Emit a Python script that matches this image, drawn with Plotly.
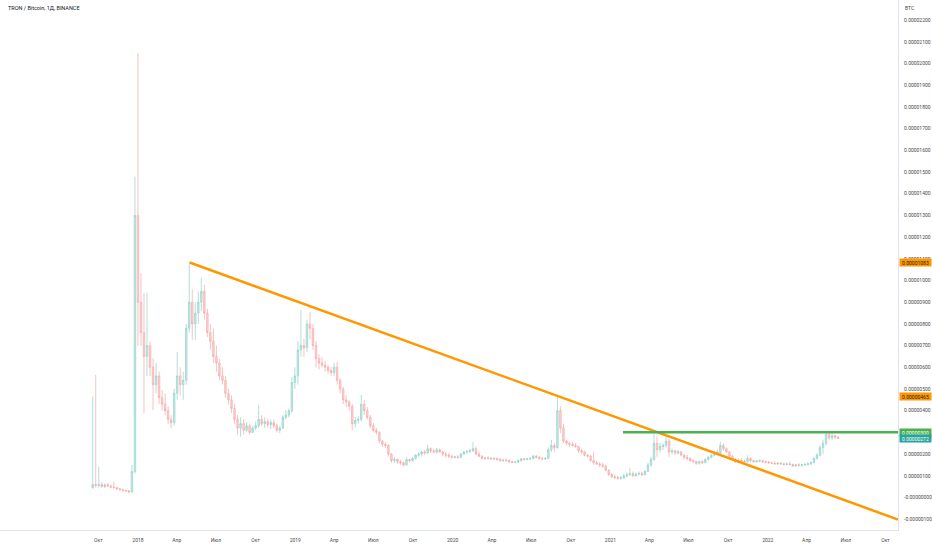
import plotly.graph_objects as go
import pandas as pd
import numpy as np

title_text = "TRON / Bitcoin, 1Д, BINANCE"
start_week = "2017-09-18"   # weekly candles, values in satoshi

opens = [45,60,55,60,50,58,52,48,45,40,36,32,30,25,120,1300,900,760,650,700,
         600,520,560,460,430,400,360,345,480,560,520,540,780,900,800,850,900,950,850,760,
         720,650,620,560,540,480,450,410,360,320,340,310,330,300,320,330,360,340,350,335,
         345,330,310,320,370,380,400,530,560,680,700,690,800,780,700,640,620,610,600,585,
         575,600,540,500,450,440,420,340,355,360,430,400,370,330,310,300,260,245,240,200,
         170,175,165,160,150,175,170,180,195,200,210,205,225,215,210,220,210,200,195,190,
         185,187,184,200,210,212,215,225,200,190,180,182,180,178,180,175,170,172,170,165,
         162,163,170,178,175,178,180,190,185,180,178,180,220,240,230,400,320,260,250,245,
         240,235,215,210,195,190,170,160,155,150,145,125,105,95,92,88,90,100,105,110,
         100,108,110,105,120,150,175,250,220,235,240,260,210,215,205,210,195,185,180,170,
         165,158,165,160,175,185,195,210,205,240,225,210,190,175,165,170,168,165,180,170,
         165,168,170,165,162,160,158,155,158,155,152,155,152,145,150,148,150,152,155,160,
         180,195,230,250,290,275,285,278]
highs = [465,565,142,70,66,68,60,73,50,45,40,36,34,150,1479,2048,1034,942,942,720,
         640,620,580,495,480,420,380,500,671,600,580,800,1083,960,900,950,1012,980,870,800,
         780,700,640,600,560,500,470,430,380,370,360,345,340,330,350,426,380,370,365,360,
         360,340,330,380,403,410,556,600,720,864,730,820,855,800,720,660,648,630,610,602,
         620,625,550,510,470,450,430,370,375,472,450,417,380,343,320,305,265,255,245,205,
         187,180,175,165,185,180,187,200,205,215,219,242,230,225,228,225,215,210,205,195,
         192,195,205,215,219,225,256,235,210,195,187,190,187,185,184,182,178,180,175,170,
         168,175,182,182,182,185,196,196,190,187,185,230,265,250,472,420,340,265,256,256,
         250,238,225,215,200,195,210,170,164,160,150,130,113,105,100,98,110,115,136,120,
         115,120,118,125,160,187,297,280,251,250,280,270,225,220,219,215,200,196,185,175,
         170,170,173,180,190,200,215,219,256,250,230,215,195,182,180,182,175,195,185,175,
         173,175,173,170,168,165,168,162,164,160,158,164,156,155,158,155,159,160,165,185,
         205,240,265,300,300,295,290,282]
lows = [40,45,45,45,44,48,42,42,35,33,28,26,21,24,110,700,700,389,560,560,
        403,480,430,400,380,340,320,330,450,470,450,520,760,726,726,800,860,820,740,680,
        620,580,540,520,460,430,390,340,290,280,290,300,290,297,310,320,330,320,320,315,
        320,300,297,315,360,370,390,500,520,650,648,670,730,680,600,590,600,580,570,560,
        560,520,480,430,417,400,311,320,340,350,380,360,320,300,290,250,233,230,190,160,
        160,155,150,142,148,160,165,175,187,190,195,200,205,203,200,205,190,185,182,180,
        180,180,182,195,200,205,210,195,185,175,173,175,173,172,170,165,164,165,160,159,
        158,160,165,170,170,172,175,180,175,172,173,178,210,210,225,297,251,240,233,235,
        230,205,200,190,185,165,150,150,140,136,120,100,90,85,82,81,85,92,100,95,
        95,100,100,102,118,141,170,187,210,219,230,187,200,196,198,190,175,170,164,160,
        150,152,155,158,170,180,190,195,200,215,205,185,170,159,160,163,160,160,163,160,
        159,162,160,159,155,152,150,150,150,148,150,150,141,141,143,142,145,148,150,158,
        175,190,200,240,265,265,268,270]
closes = [60,55,60,50,58,52,48,45,40,36,32,30,25,120,1300,900,760,650,700,600,
          520,560,460,430,400,360,345,480,560,520,540,780,900,800,850,900,950,850,760,720,
          650,620,560,540,480,450,410,360,320,340,310,330,300,320,330,360,340,350,335,345,
          330,310,320,370,380,400,530,560,680,700,690,800,780,700,640,620,610,600,585,575,
          600,540,500,450,440,420,340,355,360,430,400,370,330,310,300,260,245,240,200,170,
          175,165,160,150,175,170,180,195,200,210,205,225,215,210,220,210,200,195,190,185,
          187,184,200,210,212,215,225,200,190,180,182,180,178,180,175,170,172,170,165,162,
          163,170,178,175,178,180,190,185,180,178,180,220,240,230,400,320,260,250,245,240,
          235,215,210,195,190,170,160,155,150,145,125,105,95,92,88,90,100,105,110,100,
          108,110,105,120,150,175,250,220,235,240,260,210,215,205,210,195,185,180,170,165,
          158,165,160,175,185,195,210,205,240,225,210,190,175,165,170,168,165,180,170,165,
          168,170,165,162,160,158,155,158,155,152,155,152,145,150,148,150,152,155,160,180,
          195,230,250,290,275,285,278,272]

# drawings (TradingView tools)
trend_dates = ["2018-05-01", "2020-09-04"]
trend_sats = [1083, 465]
level_start = "2021-01-30"
level_sat = 300
last_sat = 272

x_range = ["2017-02-15", "2022-10-30"]
y_range_sat = [-150, 2293]

y_tick_sats = list(range(-100, 2201, 100))
y_tick_text = ["-0.00000100", "-0.00000000", "0.00000100", "0.00000200", "0.00000300",
               "0.00000400", "0.00000500", "0.00000600", "0.00000700", "0.00000800",
               "0.00000900", "0.00001000", "0.00001100", "0.00001200", "0.00001300",
               "0.00001400", "0.00001500", "0.00001600", "0.00001700", "0.00001800",
               "0.00001900", "0.00002000", "0.00002100", "0.00002200"]
x_tick_dates = ["2017-10-01", "2018-01-01", "2018-04-01", "2018-07-01", "2018-10-01",
                "2019-01-01", "2019-04-01", "2019-07-01", "2019-10-01",
                "2020-01-01", "2020-04-01", "2020-07-01", "2020-10-01",
                "2021-01-01", "2021-04-01", "2021-07-01", "2021-10-01",
                "2022-01-01", "2022-04-01", "2022-07-01", "2022-10-01"]
x_tick_text = ["Окт", "2018", "Апр", "Июл", "Окт", "2019", "Апр", "Июл", "Окт",
               "2020", "Апр", "Июл", "Окт", "2021", "Апр", "Июл", "Окт",
               "2022", "Апр", "Июл", "Окт"]

SAT = 1e-8
dates = pd.date_range(start_week, periods=len(closes), freq="7D")
o = np.array(opens) * SAT
h = np.array(highs) * SAT
l = np.array(lows) * SAT
c = np.array(closes) * SAT

UP = "#26a69a"
DOWN = "#ef5350"
ORANGE = "#ff9800"
GREEN = "#4caf50"
FONT = "Roboto"
FS = 5

fig = go.Figure()
fig.add_trace(go.Candlestick(
    x=dates, open=o, high=h, low=l, close=c,
    increasing=dict(line=dict(color=UP, width=0.7), fillcolor="rgba(38,166,154,0.45)"),
    decreasing=dict(line=dict(color=DOWN, width=0.7), fillcolor="rgba(239,83,80,0.45)"),
    opacity=0.5, whiskerwidth=0, showlegend=False, hoverinfo="skip"))

# trend line ray from two anchors, extended to right edge
t0 = pd.Timestamp(trend_dates[0]); t1 = pd.Timestamp(trend_dates[1])
tend = pd.Timestamp(x_range[1])
slope = (trend_sats[1] - trend_sats[0]) / (t1 - t0).days
v_end = trend_sats[0] + slope * (tend - t0).days
fig.add_trace(go.Scatter(x=[t0, tend], y=[trend_sats[0] * SAT, v_end * SAT],
                         mode="lines", line=dict(color=ORANGE, width=2.5),
                         showlegend=False, hoverinfo="skip"))
fig.add_trace(go.Scatter(x=[pd.Timestamp(level_start), tend],
                         y=[level_sat * SAT, level_sat * SAT],
                         mode="lines", line=dict(color=GREEN, width=2.5),
                         showlegend=False, hoverinfo="skip"))

annotations = [
    dict(text=title_text, xref="paper", yref="paper", x=0, y=1, xanchor="left",
         yanchor="top", xshift=6, yshift=-3, showarrow=False,
         font=dict(family=FONT, size=5.5, color="#131722")),
    dict(text="BTC", xref="paper", yref="paper", x=1, y=1, xanchor="left",
         yanchor="top", xshift=5, yshift=-3, showarrow=False,
         font=dict(family=FONT, size=FS, color="#4a4a4a")),
]
labels = [(trend_sats[0], ORANGE, "#1e1e1e"), (trend_sats[1], ORANGE, "#1e1e1e"),
          (level_sat, GREEN, "white"), (last_sat, UP, "white")]
for v, bg, fg in labels:
    annotations.append(dict(
        text=f"{v * SAT:.8f}", xref="paper", yref="y", x=1, y=v * SAT,
        xanchor="left", yanchor="middle", xshift=1, showarrow=False,
        bgcolor=bg, width=31, height=7, borderpad=0,
        font=dict(family=FONT, size=FS, color=fg)))

fig.update_layout(
    width=932, height=550,
    margin=dict(l=0, r=34, t=0, b=20),
    paper_bgcolor="white", plot_bgcolor="white",
    font=dict(family=FONT, size=FS, color="#4a4a4a"),
    annotations=annotations,
    xaxis=dict(range=x_range, rangeslider=dict(visible=False), showgrid=False,
               zeroline=False, showline=True, linecolor="#e0e3eb", linewidth=1,
               tickmode="array", tickvals=x_tick_dates, ticktext=x_tick_text,
               ticks="", tickfont=dict(family=FONT, size=FS, color="#4a4a4a"),
               ticklabelstandoff=5),
    yaxis=dict(range=[y_range_sat[0] * SAT, y_range_sat[1] * SAT], side="right",
               showgrid=False, zeroline=False, showline=True, linecolor="#e0e3eb",
               linewidth=1, tickmode="array",
               tickvals=[v * SAT for v in y_tick_sats], ticktext=y_tick_text,
               ticks="", tickfont=dict(family=FONT, size=FS, color="#4a4a4a"),
               ticklabelstandoff=4),
)

fig.write_html("out.html", config={"displayModeBar": False},
               post_script="document.body.style.margin='0';")
